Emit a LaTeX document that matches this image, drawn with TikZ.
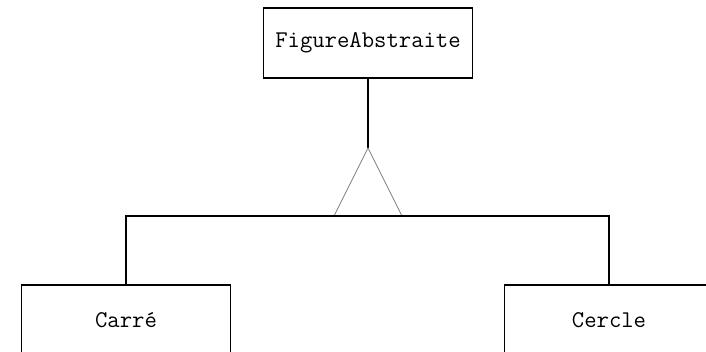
\documentclass[tikz,border=0pt]{standalone}
\begin{document}
\begin{tikzpicture}[x=1pt,y=-1pt,
  classbox/.style={draw,line width=1.8pt,minimum width=209pt,minimum height=70pt,
    inner sep=0pt,font=\ttfamily\fontsize{24}{28}\selectfont},
  link/.style={line width=1.8pt},
  inherit/.style={draw=gray,line width=0.7pt,line join=miter}]
  \useasboundingbox (0,0) rectangle (706,352);
  \clip (0,0) rectangle (706,352);
  % classes
  \node[classbox] (fig) at (368,43) {FigureAbstraite};
  \node[classbox] (carre) at (126,320) {Carré};
  \node[classbox] (cercle) at (609,320) {Cercle};
  % generalisation triangle
  \coordinate (apex) at (368,148);
  \coordinate (bl) at (334,216);
  \coordinate (br) at (402,216);
  \coordinate (hub) at (368,216);
  \draw[link] (fig.south) -- (apex);
  \draw[inherit] (bl) -- (apex) -- (br);
  \draw[link] (carre.north) |- (hub) -| (cercle.north);
\end{tikzpicture}
\end{document}
